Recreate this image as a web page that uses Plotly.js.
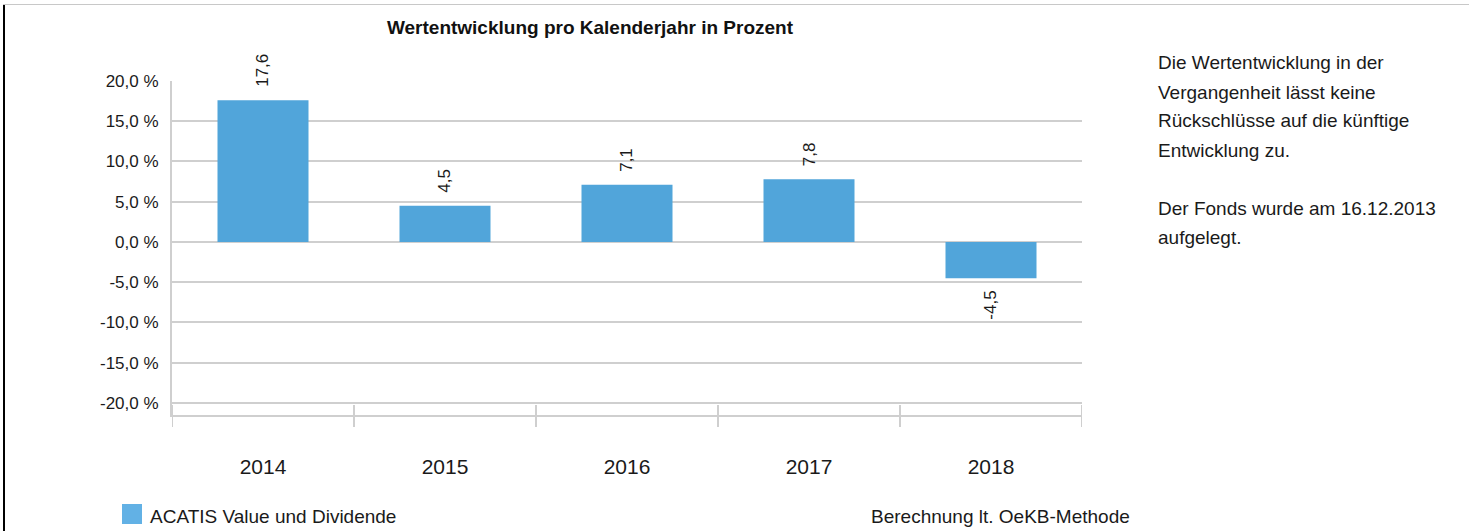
<!DOCTYPE html>
<html>
<head>
<meta charset="utf-8">
<script src="https://cdn.plot.ly/plotly-3.0.1.min.js"></script>
<style>
  html, body { margin: 0; padding: 0; background: #fff; }
  #wrap { position: relative; width: 1469px; height: 531px; overflow: hidden; }
  #chart { position: absolute; left: 0; top: 0; width: 1469px; height: 531px; }
  .bl { position: absolute; left: 3px; top: 5px; width: 2px; height: 526px; background: #000; }
  .bt { position: absolute; left: 3px; top: 4px; width: 1466px; height: 1px; background: #c8c8c8; }
</style>
</head>
<body>
<div id="wrap">
  <div id="chart"></div>
  <div class="bt"></div>
  <div class="bl"></div>
</div>
<script>
// ---- data ----
const years = ["2014", "2015", "2016", "2017", "2018"];
const values = [17.6, 4.5, 7.1, 7.8, -4.5];
const yTickVals = [-20, -15, -10, -5, 0, 5, 10, 15, 20];
const seriesName = "ACATIS Value und Dividende";
const chartTitle = "Wertentwicklung pro Kalenderjahr in Prozent";
const noteLines = [
  "Die Wertentwicklung in der",
  "Vergangenheit lässt keine",
  "Rückschlüsse auf die künftige",
  "Entwicklung zu.",
  "",
  "Der Fonds wurde am 16.12.2013",
  "aufgelegt."
];
const methodNote = "Berechnung lt. OeKB-Methode";

// ---- helpers ----
const FONT = "Liberation Sans, Arial, Helvetica, sans-serif";
const fmt = v => v.toFixed(1).replace(".", ",");
const yTickText = yTickVals.map(v => fmt(v) + " %");

const W = 1469, H = 531;
const L = 172, R = 1082, T = 81, B = 415;
const px2x = p => (p - L) / (R - L);
const px2y = p => (B - p) / (B - T);

const barColor = "#51a5da";
const gridColor = "#cfcfcf";

const annotations = [];
// data labels (category index positions)
values.forEach((v, i) => {
  annotations.push({
    x: i, y: v, xref: "x", yref: "y",
    text: fmt(v), textangle: -90, showarrow: false,
    yanchor: v >= 0 ? "bottom" : "top",
    yshift: v >= 0 ? 11 : -11,
    font: { family: FONT, size: 17, color: "#1a1a1a" }
  });
});
// right-hand notes
const noteY = [63, 92, 121, 150, null, 208, 237];
noteLines.forEach((t, i) => {
  if (!t) return;
  annotations.push({
    x: px2x(1156), y: px2y(noteY[i]), xref: "paper", yref: "paper",
    xanchor: "left", yanchor: "middle", align: "left", showarrow: false,
    text: t, font: { family: FONT, size: 19, color: "#1a1a1a" }
  });
});
// legend text
annotations.push({
  x: px2x(148), y: px2y(516), xref: "paper", yref: "paper",
  xanchor: "left", yanchor: "middle", showarrow: false,
  text: seriesName, font: { family: FONT, size: 19, color: "#1a1a1a" }
});
// method note
annotations.push({
  x: px2x(1000), y: px2y(516), xref: "paper", yref: "paper",
  xanchor: "center", yanchor: "middle", showarrow: false,
  text: methodNote, font: { family: FONT, size: 19, color: "#1a1a1a" }
});

const shapes = [{
  type: "rect", xref: "paper", yref: "paper",
  x0: px2x(122), x1: px2x(142), y0: px2y(524), y1: px2y(504),
  fillcolor: "#62b1e5", line: { width: 0 }
}];
// category boundary ticks crossing the x axis line
const boundaryVals = years.map((_, i) => i - 0.5).concat([years.length - 0.5]);
boundaryVals.forEach(b => {
  shapes.push({
    type: "line", xref: "x", yref: "paper",
    x0: b, x1: b, y0: px2y(427), y1: px2y(405),
    line: { color: gridColor, width: 2 }, layer: "above"
  });
});

const trace = {
  type: "bar", x: years, y: values, name: seriesName,
  marker: { color: barColor, line: { width: 0 } },
  hoverinfo: "x+y", showlegend: false
};

const layout = {
  width: W, height: H,
  margin: { l: L, r: W - R, t: T, b: H - B, pad: 0 },
  paper_bgcolor: "#fff", plot_bgcolor: "#fff",
  font: { family: FONT, color: "#1a1a1a" },
  title: {
    text: "<b>" + chartTitle + "</b>",
    x: 590 / W, xref: "container", xanchor: "center",
    y: 1 - 27 / H, yref: "container", yanchor: "middle",
    font: { family: FONT, size: 19, color: "#111" }
  },
  bargap: 0.5,
  showlegend: false,
  xaxis: {
    type: "category", categoryorder: "array", categoryarray: years,
    range: [-0.5, years.length - 0.5],
    ticks: "", 
    showline: true, linecolor: gridColor, linewidth: 2,
    showgrid: false, zeroline: false,
    tickfont: { family: FONT, size: 21, color: "#1a1a1a" },
    ticklabelstandoff: 32
  },
  yaxis: {
    range: [-21.5, 20],
    tickmode: "array", tickvals: yTickVals, ticktext: yTickText,
    showgrid: true, gridcolor: gridColor, gridwidth: 2,
    zeroline: false,
    showline: true, linecolor: gridColor, linewidth: 2,
    ticks: "", ticklabelstandoff: 8,
    tickfont: { family: FONT, size: 17, color: "#1a1a1a" }
  },
  annotations: annotations,
  shapes: shapes
};

Plotly.newPlot("chart", [trace], layout, { displayModeBar: false, staticPlot: true });
</script>
</body>
</html>
